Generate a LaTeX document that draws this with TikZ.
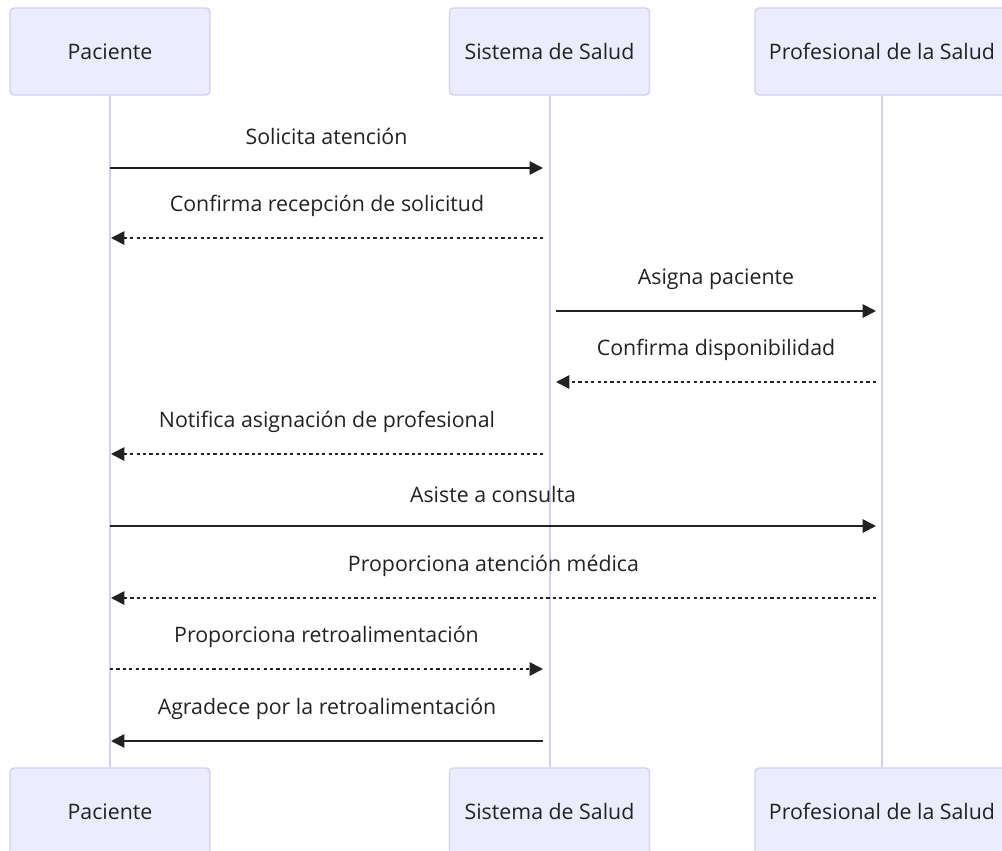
\documentclass[tikz,border=0pt]{standalone}
\usepackage{fontspec}
\setmainfont{Open Sans}
\usetikzlibrary{arrows.meta}
\usetikzlibrary{positioning}
\definecolor{actorfill}{HTML}{ECECFF}
\definecolor{actorline}{HTML}{D4CEF0}
\definecolor{ink}{HTML}{222222}
\tikzset{actor/.style = {draw=actorline, line width=1pt, fill=actorfill, rounded corners=3, minimum width=150, minimum height=65.25, font=\fontsize{16}{19}\selectfont, text=ink}}
\tikzset{life/.style = {draw=actorline, line width=1.5pt}}
\tikzset{msg/.style = {draw=ink, line width=1.4pt, -{Triangle[length=10pt, width=10pt]}}}
\tikzset{reply/.style = {msg, dash pattern=on 2.4pt off 2.4pt}}
\tikzset{lbl/.style = {midway, yshift=24pt, font=\fontsize{16}{19}\selectfont, text=ink}}

\begin{document}
\begin{tikzpicture}[x=0.75pt, y=-0.75pt]
        \useasboundingbox (0,0) rectangle (1002,850);
        \node [actor] (pacTop) at (110,51.5) {Paciente};
        \node [actor] (sisTop) at (549.5,51.5) {Sistema de Salud};
        \node [actor, minimum width=190.5] (proTop) at (882,51.5) {Profesional de la Salud};
        \node [actor] (pacBot) at (110,811.5) {Paciente};
        \node [actor] (sisBot) at (549.5,811.5) {Sistema de Salud};
        \node [actor, minimum width=190.5] (proBot) at (882,811.5) {Profesional de la Salud};
        \draw [life] (pacTop) -- (pacBot);
        \draw [life] (sisTop) -- (sisBot);
        \draw [life] (proTop) -- (proBot);
        % message ends
        \coordinate (m1a) at (110,168); \coordinate (m1b) at (543,168);
        \coordinate (m2a) at (543,238); \coordinate (m2b) at (111,238);
        \coordinate (m3a) at (556,311); \coordinate (m3b) at (876,311);
        \coordinate (m4a) at (876,382); \coordinate (m4b) at (556,382);
        \coordinate (m5a) at (543,454); \coordinate (m5b) at (111,454);
        \coordinate (m6a) at (110,526); \coordinate (m6b) at (876,526);
        \coordinate (m7a) at (876,598); \coordinate (m7b) at (111,598);
        \coordinate (m8a) at (110,669); \coordinate (m8b) at (543,669);
        \coordinate (m9a) at (543,741); \coordinate (m9b) at (111,741);
        \draw [msg] (m1a) -- node [lbl] {Solicita atención} (m1b);
        \draw [reply] (m2a) -- node [lbl] {Confirma recepción de solicitud} (m2b);
        \draw [msg] (m3a) -- node [lbl] {Asigna paciente} (m3b);
        \draw [reply] (m4a) -- node [lbl] {Confirma disponibilidad} (m4b);
        \draw [reply] (m5a) -- node [lbl] {Notifica asignación de profesional} (m5b);
        \draw [msg] (m6a) -- node [lbl] {Asiste a consulta} (m6b);
        \draw [reply] (m7a) -- node [lbl] {Proporciona atención médica} (m7b);
        \draw [reply] (m8a) -- node [lbl] {Proporciona retroalimentación} (m8b);
        \draw [msg] (m9a) -- node [lbl] {Agradece por la retroalimentación} (m9b);
\end{tikzpicture}
\end{document}
